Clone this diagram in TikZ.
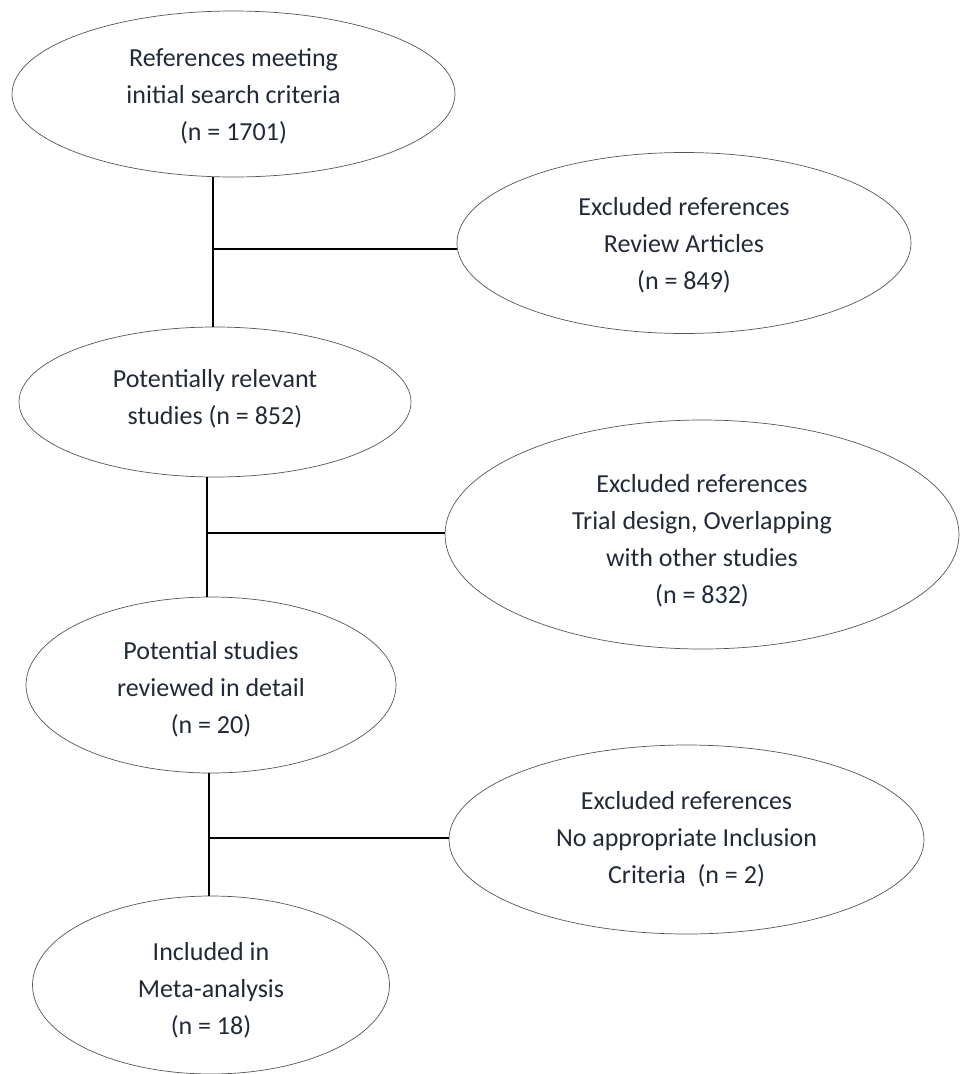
\documentclass[tikz,border=0pt]{standalone}
\usepackage{fontspec}
\setmainfont{Carlito}
\usetikzlibrary{shapes.geometric}
\definecolor{txt}{RGB}{34,42,54}
\definecolor{edge}{RGB}{85,85,85}
\begin{document}
\begin{tikzpicture}[x=1pt,y=-1pt,
  oval/.style={ellipse,draw=edge,line width=0.7pt,inner sep=0pt},
  words/.style={align=center,text=txt,inner sep=0pt,font=\fontsize{26}{37}\selectfont},
  link/.style={draw=black,line width=1.9pt}]
\useasboundingbox (0,0) rectangle (960,1074);
\node[oval,minimum width=443pt,minimum height=166pt,
  label={[words,yshift=-2pt]center:References meeting\\initial search criteria\\(n = 1701)}] (e1) at (233.5,94) {};
\node[oval,minimum width=454pt,minimum height=181pt,
  label={[words,yshift=-2pt]center:Excluded references\\Review Articles\\(n = 849)}] (e2) at (684,243) {};
\node[oval,minimum width=392pt,minimum height=150pt,
  label={[words,yshift=3pt]center:Potentially relevant\\studies (n = 852)}] (e3) at (215,402) {};
\node[oval,minimum width=514pt,minimum height=229pt,
  label={[words,yshift=-6pt]center:Excluded references\\Trial design, Overlapping\\with other studies\\(n = 832)}] (e4) at (702,534.5) {};
\node[oval,minimum width=370pt,minimum height=176pt,
  label={[words,yshift=-4pt]center:Potential studies\\reviewed in detail\\(n = 20)}] (e5) at (211,685) {};
\node[oval,minimum width=475pt,minimum height=189pt,
  label={[words]center:Excluded references\\No appropriate Inclusion\\Criteria~~(n = 2)}] (e6) at (686.5,839.5) {};
\node[oval,minimum width=357pt,minimum height=178pt,
  label={[words,yshift=-5pt]center:Included in\\Meta-analysis\\(n = 18)}] (e7) at (211,985) {};
\coordinate (j1) at (213,249);
\coordinate (j2) at (207,533);
\coordinate (j3) at (209,838);
\draw[link] (j1 |- e1.south) -- (j1 |- e3.north);
\draw[link] (j1) -- (j1 -| e2.west);
\draw[link] (j2 |- e3.south) -- (j2 |- e5.north);
\draw[link] (j2) -- (j2 -| e4.west);
\draw[link] (j3 |- e5.south) -- (j3 |- e7.north);
\draw[link] (j3) -- (j3 -| e6.west);
\end{tikzpicture}
\end{document}
